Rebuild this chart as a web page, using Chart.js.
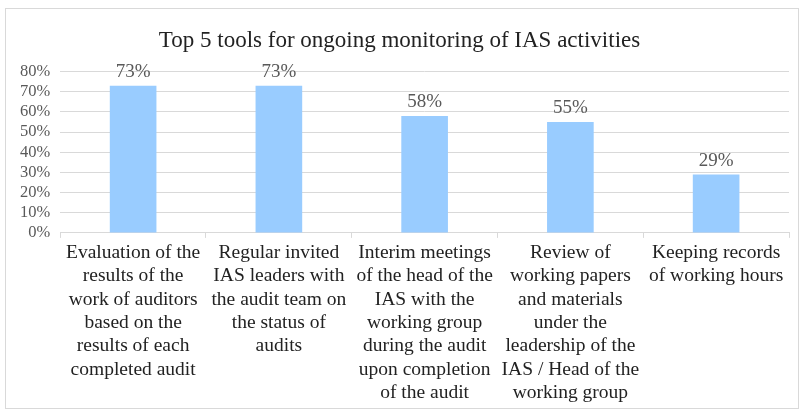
<!DOCTYPE html>
<html>
<head>
<meta charset="utf-8">
<script src="https://cdn.jsdelivr.net/npm/chart.js@4/dist/chart.umd.min.js"></script>
<style>
  body { margin: 0; background: #fff; }
  #frame {
    position: absolute; left: 5px; top: 8px;
    width: 794px; height: 401px;
    border: 1px solid #d9d9d9; box-sizing: border-box;
  }
</style>
</head>
<body>
<div id="frame"><canvas id="myChart"></canvas></div>
<script>
const categories = [
  ["Evaluation of the", "results of the", "work of auditors", "based on the", "results of each", "completed audit"],
  ["Regular invited", "IAS leaders with", "the audit team on", "the status of", "audits"],
  ["Interim meetings", "of the head of the", "IAS with the", "working group", "during the audit", "upon completion", "of the audit"],
  ["Review of", "working papers", "and materials", "under the", "leadership of the", "IAS / Head of the", "working group"],
  ["Keeping records", "of working hours"]
];
const shares = [73, 73, 58, 55, 29];
const titleChart = "Top 5 tools for ongoing monitoring of IAS activities";

const serif = "'Liberation Serif', 'Times New Roman', serif";

// draws the value above each bar
const valueLabels = {
  id: "valueLabels",
  afterDatasetsDraw(chart) {
    const ctx = chart.ctx;
    const meta = chart.getDatasetMeta(0);
    ctx.save();
    ctx.font = "19px " + serif;
    ctx.fillStyle = "#595959";
    ctx.textAlign = "center";
    ctx.textBaseline = "bottom";
    meta.data.forEach((bar, index) => {
      ctx.fillText(shares[index] + "%", bar.x, bar.y - 4);
    });
    ctx.restore();
  }
};

new Chart("myChart", {
  type: "bar",
  data: {
    labels: categories,
    datasets: [
      {
        backgroundColor: "#99ccff",
        data: shares,
        categoryPercentage: 1,
        barPercentage: 0.32
      }
    ]
  },
  options: {
    responsive: true,
    maintainAspectRatio: false,
    animation: false,
    layout: { padding: { left: 4, right: 9, top: 0, bottom: 0 } },
    plugins: {
      legend: { display: false },
      tooltip: { enabled: false },
      title: {
        display: true,
        text: titleChart,
        color: "#222",
        font: { family: serif, size: 23, weight: "normal" },
        padding: { top: 18, bottom: 17 }
      }
    },
    scales: {
      x: {
        grid: {
          offset: true,
          drawOnChartArea: false,
          color: "#d9d9d9",
          tickLength: 5
        },
        border: { color: "#d9d9d9" },
        ticks: {
          autoSkip: false,
          maxRotation: 0,
          color: "#222",
          padding: 3.5,
          font: { family: serif, size: 19.5, lineHeight: 1.195 }
        }
      },
      y: {
        min: 0,
        max: 80,
        grid: { color: "#d9d9d9", drawTicks: false },
        border: { display: false },
        ticks: {
          autoSkip: false,
          stepSize: 10,
          padding: 10,
          color: "#595959",
          font: { family: serif, size: 16.5 },
          callback: (value) => value + "%"
        }
      }
    }
  },
  plugins: [valueLabels]
});
</script>
</body>
</html>
